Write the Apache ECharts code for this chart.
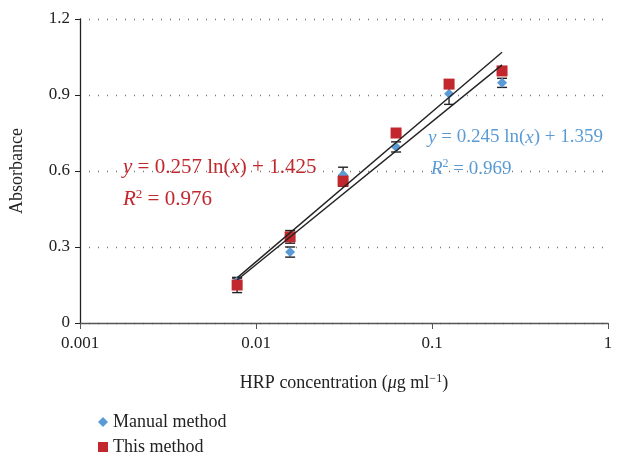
<!DOCTYPE html>
<html>
<head>
<meta charset="utf-8">
<script src="https://cdn.jsdelivr.net/npm/echarts@6/dist/echarts.min.js"></script>
<style>
  html, body { margin: 0; padding: 0; background: #fff; }
  #main { width: 628px; height: 455px; }
</style>
</head>
<body>
<div id="main"></div>
<script>
// 浓度 (µg/ml)
const concentrations = [0.0078125, 0.015625, 0.03125, 0.0625, 0.125, 0.25];
// 手工法
const manualValues = [0.165, 0.28, 0.585, 0.695, 0.905, 0.948];
const manualErrors = [0.012, 0.02, 0.03, 0.02, 0.042, 0.018];
// 本方法
const thisValues = [0.15, 0.34, 0.56, 0.75, 0.943, 0.995];
const thisErrors = [0.03, 0.025, 0.02, 0.008, 0.008, 0.008];
// 趋势线端点
const manualTrend = [[0.0078125, 0.170], [0.25, 1.019]];
const thisTrend = [[0.0078125, 0.178], [0.25, 1.069]];
const xTicks = ['0.001', '0.01', '0.1', '1'];
const yTicks = [0, 0.3, 0.6, 0.9, 1.2];

const RED = '#c1272d';
const BLUE = '#5b9bd5';
const FONT = '"Liberation Serif", "DejaVu Serif", serif';

let chartDom = document.getElementById('main');
let mychart = echarts.init(chartDom);

function pairs(xs, ys) {
  return xs.map((x, i) => [x, ys[i]]);
}

function errData(ys, errs) {
  return concentrations.map((x, i) => [x, ys[i] - errs[i], ys[i] + errs[i]]);
}

// 误差线
function renderError(params, api) {
  let lo = api.coord([api.value(0), api.value(1)]);
  let hi = api.coord([api.value(0), api.value(2)]);
  let w = 5;
  let style = { stroke: '#222', lineWidth: 1.4 };
  return {
    type: 'group',
    children: [
      { type: 'line', shape: { x1: lo[0], y1: lo[1], x2: hi[0], y2: hi[1] }, style: style },
      { type: 'line', shape: { x1: lo[0] - w, y1: lo[1], x2: lo[0] + w, y2: lo[1] }, style: style },
      { type: 'line', shape: { x1: hi[0] - w, y1: hi[1], x2: hi[0] + w, y2: hi[1] }, style: style }
    ]
  };
}

let legendText = { fontFamily: FONT, fontSize: 18, color: '#222' };

let option = {
  animation: false,
  textStyle: { fontFamily: FONT },
  grid: { left: 77, right: 20, top: 19, bottom: 132 },
  legend: [
    {
      left: 93, top: 408, itemWidth: 10, itemHeight: 10,
      textStyle: legendText,
      data: [{ name: 'Manual method', icon: 'diamond' }]
    },
    {
      left: 93, top: 433, itemWidth: 10, itemHeight: 10,
      textStyle: legendText,
      data: [{ name: 'This method', icon: 'rect' }]
    }
  ],
  xAxis: {
    type: 'log',
    logBase: 10,
    min: 0.001,
    max: 1,
    name: 'HRP concentration ({it|μ}g ml{sup|−1})',
    nameLocation: 'middle',
    nameGap: 50,
    nameTextStyle: {
      fontFamily: FONT, fontSize: 18, color: '#222',
      rich: {
        it: { fontFamily: FONT, fontSize: 18, fontStyle: 'italic', color: '#222' },
        sup: { fontFamily: FONT, fontSize: 12, color: '#222', verticalAlign: 'top', padding: [0, 0, 8, 0] }
      }
    },
    axisLine: { lineStyle: { color: '#555', width: 1.3 } },
    axisTick: { show: true, length: 6, lineStyle: { color: '#555' } },
    axisLabel: {
      fontFamily: FONT, fontSize: 17, color: '#222', margin: 12,
      formatter: function (value) {
        let k = Math.round(Math.log10(value)) + 3;
        return xTicks[k] !== undefined ? xTicks[k] : '';
      }
    },
    splitLine: { show: false },
    minorTick: { show: false }
  },
  yAxis: {
    type: 'value',
    min: 0,
    max: 1.2,
    interval: 0.3,
    name: 'Absorbance',
    nameLocation: 'middle',
    nameGap: 54,
    nameTextStyle: { fontFamily: FONT, fontSize: 18, color: '#222' },
    axisLine: { show: true, lineStyle: { color: '#222', width: 1.3 } },
    axisTick: { show: true, length: 5, lineStyle: { color: '#222' } },
    axisLabel: {
      fontFamily: FONT, fontSize: 17, color: '#222', margin: 10,
      formatter: function (value) {
        let t = yTicks.find(v => Math.abs(v - value) < 1e-6);
        return t === 0 ? '0' : String(t);
      }
    },
    splitLine: { show: true, lineStyle: { color: '#777', type: [1, 8], width: 1.3 } }
  },
  graphic: [
    {
      type: 'text', left: 123, top: 157,
      style: {
        text: '{i|y} = 0.257 ln({i|x}) + 1.425',
        fontFamily: FONT, fontSize: 21, fill: RED,
        rich: { i: { fontFamily: FONT, fontSize: 21, fontStyle: 'italic', color: RED } }
      }
    },
    {
      type: 'text', left: 123, top: 188,
      style: {
        text: '{i|R}{s|2} = 0.976',
        fontFamily: FONT, fontSize: 21, fill: RED,
        rich: {
          i: { fontFamily: FONT, fontSize: 21, fontStyle: 'italic', color: RED },
          s: { fontFamily: FONT, fontSize: 13, color: RED, verticalAlign: 'top', padding: [0, 0, 10, 0] }
        }
      }
    },
    {
      type: 'text', left: 428, top: 128,
      style: {
        text: '{i|y} = 0.245 ln({i|x}) + 1.359',
        fontFamily: FONT, fontSize: 19, fill: BLUE,
        rich: { i: { fontFamily: FONT, fontSize: 19, fontStyle: 'italic', color: BLUE } }
      }
    },
    {
      type: 'text', left: 431, top: 158,
      style: {
        text: '{i|R}{s|2} = 0.969',
        fontFamily: FONT, fontSize: 19, fill: BLUE,
        rich: {
          i: { fontFamily: FONT, fontSize: 19, fontStyle: 'italic', color: BLUE },
          s: { fontFamily: FONT, fontSize: 12, color: BLUE, verticalAlign: 'top', padding: [0, 0, 10, 0] }
        }
      }
    }
  ],
  series: [
    {
      type: 'custom',
      renderItem: renderError,
      z: 1,
      silent: true,
      encode: { x: 0, y: [1, 2] },
      data: errData(manualValues, manualErrors)
    },
    {
      type: 'custom',
      renderItem: renderError,
      z: 1,
      silent: true,
      encode: { x: 0, y: [1, 2] },
      data: errData(thisValues, thisErrors)
    },
    {
      name: 'Manual method',
      type: 'scatter',
      symbol: 'diamond',
      symbolSize: 10,
      itemStyle: { color: BLUE, opacity: 1 },
      z: 2,
      data: pairs(concentrations, manualValues)
    },
    {
      name: 'This method',
      type: 'scatter',
      symbol: 'rect',
      symbolSize: 11,
      itemStyle: { color: RED, opacity: 1 },
      z: 3,
      data: pairs(concentrations, thisValues)
    },
    {
      type: 'line',
      symbol: 'none',
      z: 4,
      silent: true,
      lineStyle: { color: '#222', width: 1.4 },
      data: manualTrend
    },
    {
      type: 'line',
      symbol: 'none',
      z: 4,
      silent: true,
      lineStyle: { color: '#222', width: 1.4 },
      data: thisTrend
    }
  ]
};

option && mychart.setOption(option);
</script>
</body>
</html>
